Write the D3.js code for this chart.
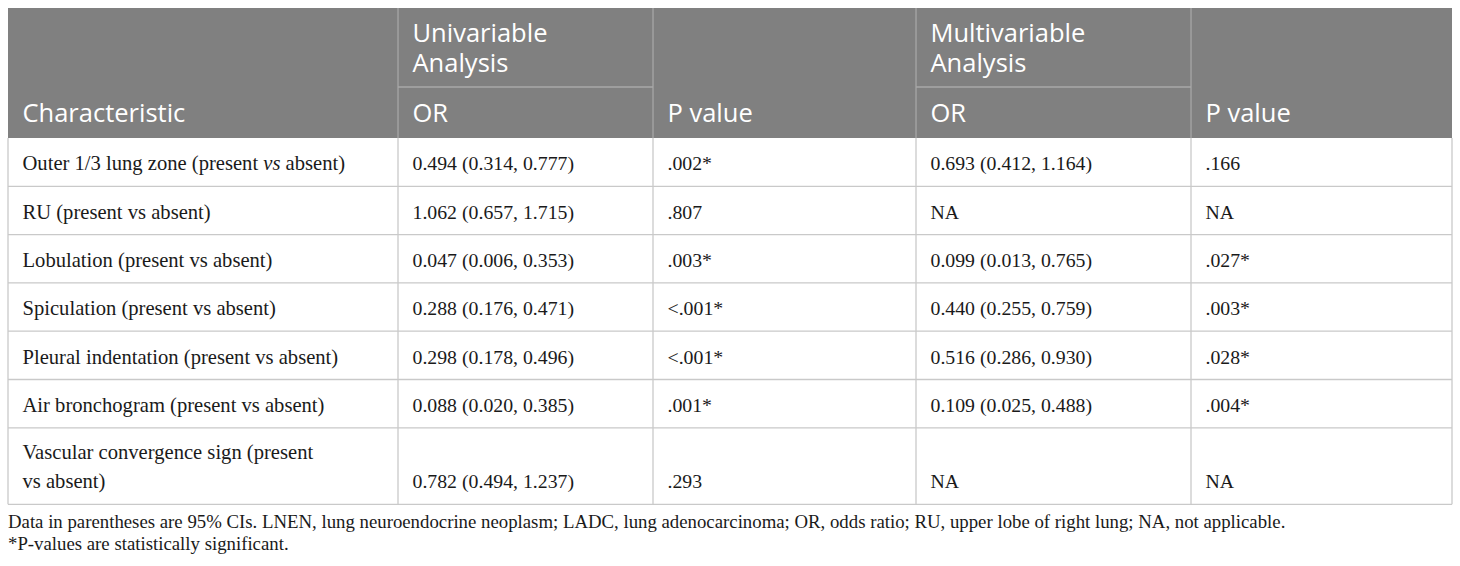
<!DOCTYPE html>
<html>
<head>
<meta charset="utf-8">
<script src="https://cdn.jsdelivr.net/npm/d3@7/dist/d3.min.js"></script>
<style>
  html, body { margin: 0; padding: 0; background: #fff; }
  svg { display: block; }
</style>
</head>
<body>
<div id="table"></div>
<script>
// Table contents
const characteristics = [
  'Outer 1/3 lung zone (present _vs_ absent)',
  'RU (present vs absent)',
  'Lobulation (present vs absent)',
  'Spiculation (present vs absent)',
  'Pleural indentation (present vs absent)',
  'Air bronchogram (present vs absent)',
  'Vascular convergence sign (present\nvs absent)'
];
const uniOR = [
  '0.494 (0.314, 0.777)',
  '1.062 (0.657, 1.715)',
  '0.047 (0.006, 0.353)',
  '0.288 (0.176, 0.471)',
  '0.298 (0.178, 0.496)',
  '0.088 (0.020, 0.385)',
  '0.782 (0.494, 1.237)'
];
const uniP = ['.002*', '.807', '.003*', '<.001*', '<.001*', '.001*', '.293'];
const multiOR = [
  '0.693 (0.412, 1.164)',
  'NA',
  '0.099 (0.013, 0.765)',
  '0.440 (0.255, 0.759)',
  '0.516 (0.286, 0.930)',
  '0.109 (0.025, 0.488)',
  'NA'
];
const multiP = ['.166', 'NA', '.027*', '.003*', '.028*', '.004*', 'NA'];
const groupHeaders = ['Univariable\nAnalysis', 'Multivariable\nAnalysis'];
const footnotes = [
  'Data in parentheses are 95% CIs. LNEN, lung neuroendocrine neoplasm; LADC, lung adenocarcinoma; OR, odds ratio; RU, upper lobe of right lung; NA, not applicable.',
  '*P-values are statistically significant.'
];

// Layout
const width = 1460, height = 566;
const colEdges = [8, 398, 653, 916, 1191, 1452];
const padX = 14.5;
const headTop = 8, headMid = 87, headBottom = 138;
const rowBase = 48.3, rowExtra = 28.2, lineGap = 29.5;

const sansFont = '"Open Sans", "Noto Sans", sans-serif';
const serifFont = '"Liberation Serif", "Times New Roman", serif';
const textColor = '#1a1a1a';

const svg = d3.select('#table').append('svg')
  .attr('width', width)
  .attr('height', height);

svg.append('rect').attr('width', width).attr('height', height).attr('fill', '#fff');

// column scale: index -> left edge
const x = d3.scaleOrdinal().domain(d3.range(colEdges.length)).range(colEdges);

// rows: cumulative heights from line counts
const rows = characteristics.map((c, i) => ({
  lines: c.split('\n'),
  cells: [uniOR[i], uniP[i], multiOR[i], multiP[i]]
}));
let acc = headBottom;
rows.forEach((r) => {
  r.top = acc;
  r.h = rowBase + (r.lines.length - 1) * rowExtra;
  acc += r.h;
  r.bottom = acc;
});
const tableBottom = acc;

// ---- Header ----
const head = svg.append('g');
head.append('rect')
  .attr('x', x(0)).attr('y', headTop)
  .attr('width', x(5) - x(0)).attr('height', headBottom - headTop)
  .attr('fill', '#808080');

// header grid
const headLine = '#a9a9a9';
d3.range(1, 5).forEach((i) => {
  head.append('line')
    .attr('x1', x(i)).attr('x2', x(i))
    .attr('y1', headTop).attr('y2', headBottom)
    .attr('stroke', headLine).attr('stroke-width', 1.2);
});
[1, 3].forEach((i) => {
  head.append('line')
    .attr('x1', x(i)).attr('x2', x(i + 1))
    .attr('y1', headMid).attr('y2', headMid)
    .attr('stroke', headLine).attr('stroke-width', 1.5);
});

function headText(str, col, y) {
  const t = head.append('text')
    .attr('y', y)
    .attr('fill', '#fff')
    .attr('font-family', sansFont)
    .attr('font-size', 25.5);
  str.split('\n').forEach((ln, j) => {
    t.append('tspan')
      .attr('x', x(col) + padX)
      .attr('dy', j ? 29.4 : 0)
      .text(ln);
  });
}
headText('Characteristic', 0, 121.5);
groupHeaders.forEach((g, k) => {
  headText(g, 1 + k * 2, 42.3);
  headText('OR', 1 + k * 2, 121.5);
  headText('P value', 2 + k * 2, 121.5);
});

// ---- Body ----
const body = svg.append('g');
const gridColor = '#c9c9c9';

rows.forEach((r) => {
  body.append('line')
    .attr('x1', x(0)).attr('x2', x(5))
    .attr('y1', r.bottom).attr('y2', r.bottom)
    .attr('stroke', gridColor).attr('stroke-width', 1.3);

  const n = r.lines.length;
  const baseline = (k) => r.bottom - 16 - (n - 1 - k) * lineGap;

  r.lines.forEach((ln, k) => {
    const t = body.append('text')
      .attr('x', x(0) + padX).attr('y', baseline(k))
      .attr('fill', textColor)
      .attr('font-family', serifFont)
      .attr('font-size', 20.6);
    // _word_ marks italic
    ln.split(/(_[^_]+_)/).forEach((part) => {
      if (!part) return;
      const it = part.startsWith('_') && part.endsWith('_');
      t.append('tspan')
        .attr('font-style', it ? 'italic' : null)
        .text(it ? part.slice(1, -1) : part);
    });
  });

  r.cells.forEach((c, j) => {
    body.append('text')
      .attr('x', x(j + 1) + padX).attr('y', baseline(n - 1))
      .attr('fill', textColor)
      .attr('font-family', serifFont)
      .attr('font-size', 19.8)
      .text(c);
  });
});

// body vertical lines + outer border
d3.range(0, 6).forEach((i) => {
  body.append('line')
    .attr('x1', x(i)).attr('x2', x(i))
    .attr('y1', headBottom).attr('y2', tableBottom)
    .attr('stroke', gridColor).attr('stroke-width', 1.3);
});

// ---- Footnotes ----
footnotes.forEach((f, i) => {
  svg.append('text')
    .attr('x', x(0)).attr('y', tableBottom + 24 + i * 22)
    .attr('fill', textColor)
    .attr('font-family', serifFont)
    .attr('font-size', 18.8)
    .text(f);
});
</script>
</body>
</html>
